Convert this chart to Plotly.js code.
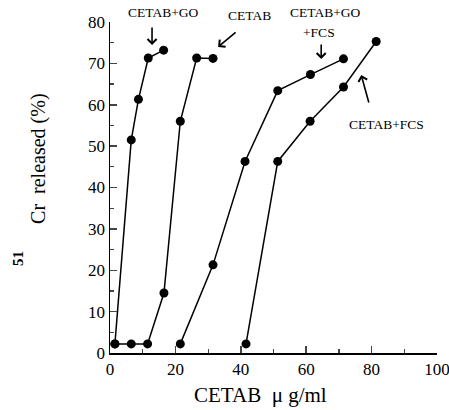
<!DOCTYPE html>
<html>
<head>
<meta charset="utf-8">
<script src="https://cdn.plot.ly/plotly-3.0.1.min.js"></script>
<style>html,body{margin:0;padding:0;background:#fff;}#chart{width:449px;height:410px;}</style>
</head>
<body>
<div id="chart"></div>
<script>
// CETAB concentration (µg/ml) and 51Cr released (%)
var goX = [1.5, 6.5, 8.7, 11.7, 16.4];
var goY = [2.2, 51.5, 61.3, 71.3, 73.2];
var cetabX = [1.5, 6.5, 11.5, 16.5, 21.5, 26.5, 31.5];
var cetabY = [2.2, 2.2, 2.2, 14.5, 56.0, 71.3, 71.2];
var goFcsX = [21.5, 31.5, 41.3, 51.3, 61.3, 71.4];
var goFcsY = [2.2, 21.3, 46.3, 63.4, 67.3, 71.1];
var fcsX = [41.6, 51.3, 61.2, 71.4, 81.4];
var fcsY = [2.2, 46.3, 56.0, 64.3, 75.3];
var seriesNames = ["CETAB+GO", "CETAB", "CETAB+GO<br>+FCS", "CETAB+FCS"];
var xTickVals = [0, 20, 40, 60, 80, 100];
var yTickVals = [0, 10, 20, 30, 40, 50, 60, 70, 80];

function tr(x, y, name) {
  return {
    x: x, y: y, name: name, type: 'scatter', mode: 'lines+markers',
    line: {color: '#000', width: 1.5},
    marker: {color: '#000', size: 9},
    cliponaxis: false, showlegend: false
  };
}
var data = [
  tr(goX, goY, seriesNames[0]),
  tr(cetabX, cetabY, seriesNames[1]),
  tr(goFcsX, goFcsY, seriesNames[2]),
  tr(fcsX, fcsY, seriesNames[3])
];

var F = 'Liberation Serif';
function px(x) { return (x - 110) / 326.7; }
function py(y) { return (353 - y) / 331; }
function lab(text, x, y, size, angle) {
  return {text: text, xref: 'paper', yref: 'paper', x: px(x), y: py(y), showarrow: false,
    textangle: angle || 0,
    xanchor: 'center', yanchor: 'middle', font: {family: F, size: size || 13.5, color: '#000'}};
}
function arr(x, y, ax, ay) {
  return {text: '', xref: 'paper', yref: 'paper', x: px(x), y: py(y), ax: ax, ay: ay,
    showarrow: true, arrowhead: 4, arrowsize: 1.1, arrowwidth: 1.6, arrowcolor: '#000', standoff: 0};
}

var layout = {
  width: 449, height: 410,
  margin: {l: 110, r: 12, t: 22, b: 57},
  paper_bgcolor: '#fff', plot_bgcolor: '#fff',
  font: {family: F, color: '#000', size: 15},
  xaxis: {
    range: [0, 100], tickvals: xTickVals, ticks: 'inside', ticklen: 7, tickwidth: 1.5,
    showline: true, linewidth: 1.5, linecolor: '#000', showgrid: false, zeroline: false,
    minor: {dtick: 10, ticks: 'inside', ticklen: 4, tickwidth: 1.2, showgrid: false},
    tickfont: {family: F, size: 17}, ticklabeloverflow: 'allow'
  },
  yaxis: {
    range: [0, 80], tickvals: yTickVals, ticks: 'inside', ticklen: 7, tickwidth: 1.5,
    showline: true, linewidth: 1.5, linecolor: '#000', showgrid: false, zeroline: false,
    minor: {dtick: 5, ticks: 'inside', ticklen: 4, tickwidth: 1.2, showgrid: false},
    tickfont: {family: F, size: 17}, ticklabeloverflow: 'allow'
  },
  annotations: [
    lab('CETAB+GO', 163, 13),
    lab('CETAB', 249, 15),
    lab('CETAB+GO', 325, 13),
    lab('+FCS', 319, 33),
    lab('CETAB+FCS', 386, 124),
    arr(152, 45, 0, -19),
    arr(218, 47, 19, -16),
    arr(321, 59, 0, -16),
    arr(361, 75, 8, 29),
    lab('CETAB  \u03bc g/ml', 260, 395, 21),
    lab('Cr  released (%)', 38, 158, 20, -90),
    lab('<b>51</b>', 18, 258, 15, -90)
  ]
};
Plotly.newPlot('chart', data, layout, {staticPlot: true, displayModeBar: false});
</script>
</body>
</html>
